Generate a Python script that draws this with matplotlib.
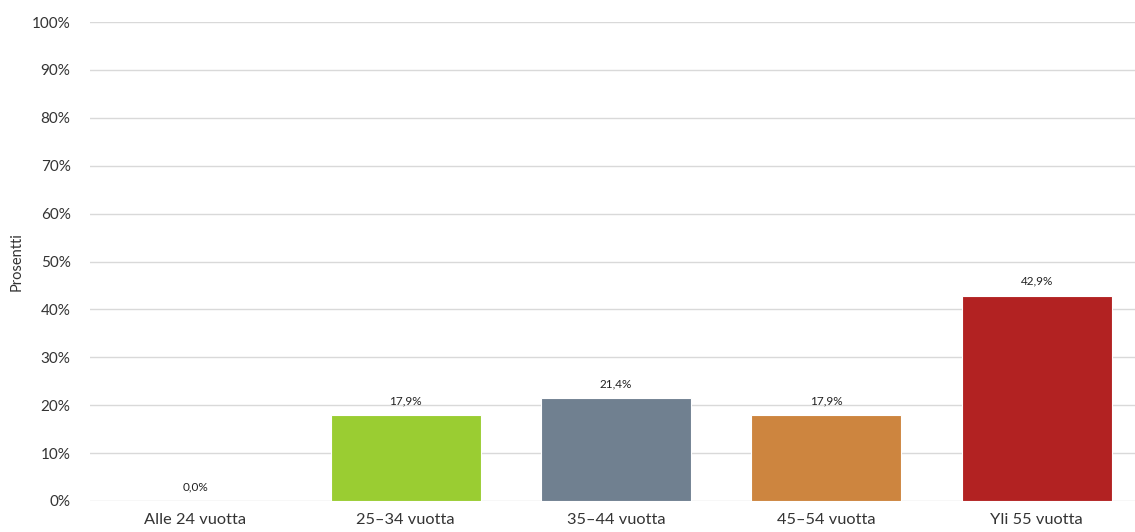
import numpy as np
import matplotlib.pyplot as plt

categories = ["Alle 24 vuotta", "25–34 vuotta", "35–44 vuotta", "45–54 vuotta", "Yli 55 vuotta"]
values = [0.0, 17.9, 21.4, 17.9, 42.9]
colors = ["#9ACD32", "#9ACD32", "#708090", "#CD853F", "#B22222"]
yticks = list(range(0, 101, 10))

plt.rcParams['font.family'] = ['Lato', 'DejaVu Sans']

fig = plt.figure(figsize=(11.35, 5.32), dpi=100)
ax = fig.add_axes([90 / 1135, 31 / 532, 1052 / 1135, 479 / 532])

x = np.arange(len(categories))
bars = ax.bar(x, values, width=0.713, color=colors, edgecolor="white", linewidth=0.8, zorder=3)

for xi, v in zip(x, values):
    ax.text(xi, v + 1.8, f"{v:.1f}%".replace(".", ","), ha="center", va="bottom",
            fontsize=8.5, color="#222222")

ax.set_xlim(-0.5, len(categories) - 0.5)
ax.set_ylim(0, 100)
ax.set_yticks(yticks)
ax.set_yticklabels([f"{t}%" for t in yticks])
ax.set_xticks(x)
ax.set_xticklabels(categories)
ax.tick_params(axis="y", length=0, labelsize=11, colors="#333333", pad=14)
ax.tick_params(axis="x", length=0, labelsize=11.8, colors="#333333", pad=9)
ax.yaxis.grid(True, color="#d9d9d9", linewidth=1, zorder=0)
for s in ax.spines.values():
    s.set_visible(False)
ax.set_ylabel("Prosentti", fontsize=10.5, color="#333333", labelpad=6)

fig.savefig("out.png", dpi=100)
